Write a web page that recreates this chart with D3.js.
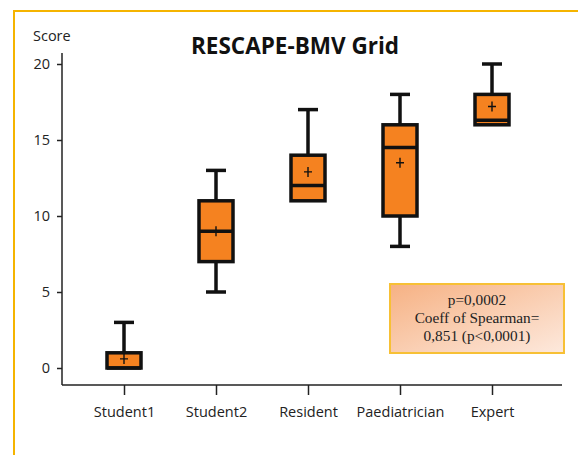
<!DOCTYPE html>
<meta charset="utf-8">
<style>
body { margin: 0; background: #fff; }
text { font-family: "Open Sans", "DejaVu Sans", sans-serif; }
.axis path, .axis line { stroke: #222; stroke-width: 1.5px; }
.axis text { font-size: 14.5px; fill: #222; }
</style>
<body>
<script src="https://d3js.org/d3.v7.min.js"></script>
<script>

// data
var groups = ["Student1", "Student2", "Resident", "Paediatrician", "Expert"];
var whiskerLow  = [0, 5, 11, 8, 16];
var q1          = [0, 7, 11, 10, 16];
var median      = [0, 9, 12, 14.5, 16.3];
var q3          = [1, 11, 14, 16, 18];
var whiskerHigh = [3, 13, 17, 18, 20];
var means       = [0.6, 9, 12.9, 13.5, 17.2];
var yTicks = [0, 5, 10, 15, 20];
var noteLines = ["p=0,0002", "Coeff of Spearman=", "0,851 (p<0,0001)"];

var W = 578, H = 455;

var svg = d3.select("body").append("svg")
    .attr("width", W)
    .attr("height", H);

// outer yellow frame
svg.append("rect")
    .attr("x", 14).attr("y", 11)
    .attr("width", W).attr("height", H)
    .attr("fill", "none")
    .attr("stroke", "#f5b400")
    .attr("stroke-width", 2);

var x = d3.scalePoint().domain(groups).range([124, 492]);
var y = d3.scaleLinear().domain([0, 20]).range([368, 64]);

// y axis
var yAxis = svg.append("g")
    .attr("class", "axis")
    .attr("transform", "translate(62,0)")
    .call(d3.axisLeft(y).tickValues(yTicks).tickSize(5).tickPadding(7));
yAxis.select(".domain").attr("d", "M0,53V385");

// x axis
var xAxis = svg.append("g")
    .attr("class", "axis")
    .attr("transform", "translate(0,385)")
    .call(d3.axisBottom(x).tickSize(10).tickPadding(12));
xAxis.select(".domain").attr("d", "M62,0H562");

// titles
svg.append("text")
    .attr("x", 33).attr("y", 41)
    .attr("font-size", 14.5)
    .attr("fill", "#222")
    .text("Score");

svg.append("text")
    .attr("x", 295).attr("y", 54)
    .attr("text-anchor", "middle")
    .attr("font-size", 22.5)
    .attr("font-weight", "bold")
    .attr("fill", "#111")
    .text("RESCAPE-BMV Grid");

// boxes
var boxW = 34, capW = 20;
var rows = groups.map(function(g, i) {
  return {g: g, lo: whiskerLow[i], q1: q1[i], med: median[i], q3: q3[i], hi: whiskerHigh[i], mean: means[i]};
});

var bp = svg.selectAll("g.box")
    .data(rows)
  .enter().append("g")
    .attr("class", "box")
    .attr("transform", function(d) { return "translate(" + x(d.g) + ",0)"; });

// whiskers
bp.append("line")
    .attr("x1", 0).attr("x2", 0)
    .attr("y1", function(d) { return y(d.hi); })
    .attr("y2", function(d) { return y(d.q3); })
    .attr("stroke", "#111").attr("stroke-width", 3.5);
bp.append("line")
    .attr("x1", 0).attr("x2", 0)
    .attr("y1", function(d) { return y(d.lo); })
    .attr("y2", function(d) { return y(d.q1); })
    .attr("stroke", "#111").attr("stroke-width", 3.5);
// caps
bp.append("line")
    .attr("x1", -capW / 2).attr("x2", capW / 2)
    .attr("y1", function(d) { return y(d.hi); })
    .attr("y2", function(d) { return y(d.hi); })
    .attr("stroke", "#111").attr("stroke-width", 3.5);
bp.filter(function(d) { return d.lo < d.q1; }).append("line")
    .attr("x1", -capW / 2).attr("x2", capW / 2)
    .attr("y1", function(d) { return y(d.lo); })
    .attr("y2", function(d) { return y(d.lo); })
    .attr("stroke", "#111").attr("stroke-width", 3.5);

// box
bp.append("rect")
    .attr("x", -boxW / 2)
    .attr("width", boxW)
    .attr("y", function(d) { return y(d.q3); })
    .attr("height", function(d) { return y(d.q1) - y(d.q3); })
    .attr("fill", "#f58220")
    .attr("stroke", "#111")
    .attr("stroke-width", 3.5);

// median
bp.append("line")
    .attr("x1", -boxW / 2).attr("x2", boxW / 2)
    .attr("y1", function(d) { return y(d.med); })
    .attr("y2", function(d) { return y(d.med); })
    .attr("stroke", "#111").attr("stroke-width", 3.5);

// mean marker
bp.append("path")
    .attr("d", function(d) { var m = y(d.mean); return "M-4," + m + "H4M0," + (m - 5) + "V" + (m + 5); })
    .attr("stroke", "#111").attr("stroke-width", 1.4)
    .attr("fill", "none");

// annotation box
var defs = svg.append("defs");
var grad = defs.append("linearGradient")
    .attr("id", "noteGrad")
    .attr("x1", "0%").attr("y1", "0%")
    .attr("x2", "100%").attr("y2", "100%");
grad.append("stop").attr("offset", "0%").attr("stop-color", "#f6b183");
grad.append("stop").attr("offset", "100%").attr("stop-color", "#fde9dd");

svg.append("rect")
    .attr("x", 390).attr("y", 284)
    .attr("width", 174).attr("height", 69)
    .attr("fill", "url(#noteGrad)")
    .attr("stroke", "#f7c035")
    .attr("stroke-width", 2);

svg.append("g").selectAll("text")
    .data(noteLines)
  .enter().append("text")
    .attr("x", 477)
    .attr("y", function(d, i) { return 305 + i * 18; })
    .attr("text-anchor", "middle")
    .attr("font-size", 15.3)
    .style("font-family", "'Liberation Serif', 'DejaVu Serif', serif")
    .attr("fill", "#222")
    .text(function(d) { return d; });

</script>
</body>
